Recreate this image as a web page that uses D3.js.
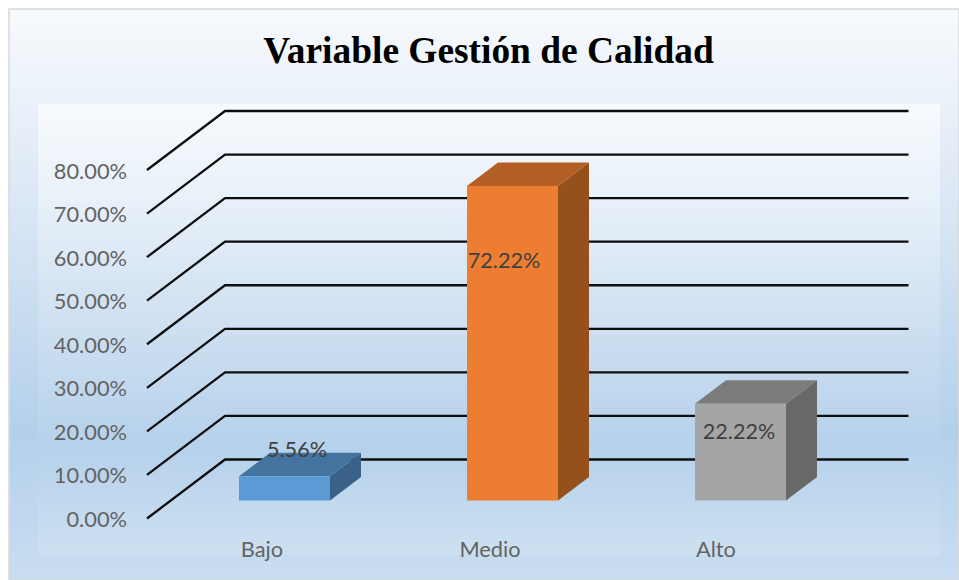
<!DOCTYPE html>
<html><head><meta charset="utf-8">
<script src="https://cdn.jsdelivr.net/npm/d3@7"></script>
<style>html,body{margin:0;padding:0;background:#fff}svg{display:block}</style>
</head><body><div id="c"></div>
<script>
const categories = ["Bajo","Medio","Alto"];
const values = [0.0556,0.7222,0.2222];
const valueLabels = ["5.56%","72.22%","22.22%"];
const tickValues = [0,0.1,0.2,0.3,0.4,0.5,0.6,0.7,0.8];
const faceColors = ["#5b9bd5","#ed7d31","#a5a5a5"];
const topColors = ["#44739f","#b25e25","#7c7c7c"];
const sideColors = ["#3a6288","#95501c","#686868"];
const titleText = "Variable Gestión de Calidad";

const W=959,H=580;
const svg=d3.select("#c").append("svg").attr("width",W).attr("height",H);
const defs=svg.append("defs");
function grad(id,stops){
  const g=defs.append("linearGradient").attr("id",id).attr("x1",0).attr("y1",0).attr("x2",0).attr("y2",1);
  stops.forEach(s=>g.append("stop").attr("offset",s[0]).attr("stop-color",s[1]));
}
grad("bgOuter",[[0,"#f7fafd"],[0.18,"#e9f0f9"],[0.45,"#d0e1f2"],[0.74,"#b3d0eb"],[1,"#c9ddf1"]]);
grad("bgPlot",[[0,"#f7fafd"],[0.2,"#e9f1f9"],[0.45,"#d2e2f2"],[0.76,"#b5d1eb"],[1,"#cde0f1"]]);

svg.append("rect").attr("x",9).attr("y",9).attr("width",W-9).attr("height",H-9)
  .attr("fill","url(#bgOuter)").attr("stroke","#d9d9d9").attr("stroke-width",1.5);
svg.append("rect").attr("x",38).attr("y",104).attr("width",902).attr("height",451).attr("fill","url(#bgPlot)");

svg.append("text").attr("x",488.5).attr("y",63).attr("text-anchor","middle")
  .attr("font-family","'Liberation Serif',serif").attr("font-weight","bold").attr("font-size",37.4)
  .attr("fill","#000").text(titleText);

const y=d3.scaleLinear().domain([0,0.8]).range([518.5,170]);
const x=d3.scaleBand().domain(categories).range([239,786]).paddingInner(137/228).paddingOuter(0);
const depthX=78,depthY=59,rightEnd=908.5;
const barLift=18,barDX=31,barDY=23.5;

const font="Lato,'Open Sans',sans-serif";
const grid=svg.append("g").attr("fill","none").attr("stroke","#0d0d0d").attr("stroke-width",2.3);
grid.selectAll("path").data(tickValues).join("path")
  .attr("stroke-linejoin","round")
  .attr("d",d=>d3.line()([[147,y(d)],[147+depthX,y(d)-depthY],[rightEnd,y(d)-depthY]]));

svg.append("g").selectAll("text").data(tickValues).join("text")
  .attr("x",127).attr("y",d=>y(d)+8.5).attr("text-anchor","end")
  .attr("font-family",font).attr("font-size",21.8).attr("fill","#636363")
  .text(d3.format(".2%"));

const line=d3.line();
const bars=svg.append("g").selectAll("g").data(categories).join("g");
bars.each(function(c,i){
  const g=d3.select(this), x0=x(c), x1=x0+x.bandwidth(), yb=y(0)-barLift, yt=y(values[i])-barLift;
  g.append("path").attr("fill",sideColors[i]).attr("d",line([[x1,yb],[x1,yt],[x1+barDX,yt-barDY],[x1+barDX,yb-barDY]])+"Z");
  g.append("path").attr("fill",topColors[i]).attr("d",line([[x0,yt],[x1,yt],[x1+barDX,yt-barDY],[x0+barDX,yt-barDY]])+"Z");
  g.append("rect").attr("x",x0).attr("y",yt).attr("width",x.bandwidth()).attr("height",yb-yt).attr("fill",faceColors[i]);
});

const labelDX=[58,37,44], labelBaseY=[456.5,267.5,438.5];
svg.append("g").selectAll("text").data(categories).join("text")
  .attr("x",(c,i)=>x(c)+labelDX[i]).attr("y",(c,i)=>labelBaseY[i]).attr("text-anchor","middle")
  .attr("font-family",font).attr("font-size",21.6).attr("fill","#404040")
  .text((c,i)=>valueLabels[i]);

const catDX=[23,23,21];
svg.append("g").selectAll("text").data(categories).join("text")
  .attr("x",(c,i)=>x(c)+catDX[i]).attr("y",557).attr("text-anchor","middle")
  .attr("font-family",font).attr("font-size",21.8).attr("fill","#636363")
  .text(c=>c);
</script></body></html>
